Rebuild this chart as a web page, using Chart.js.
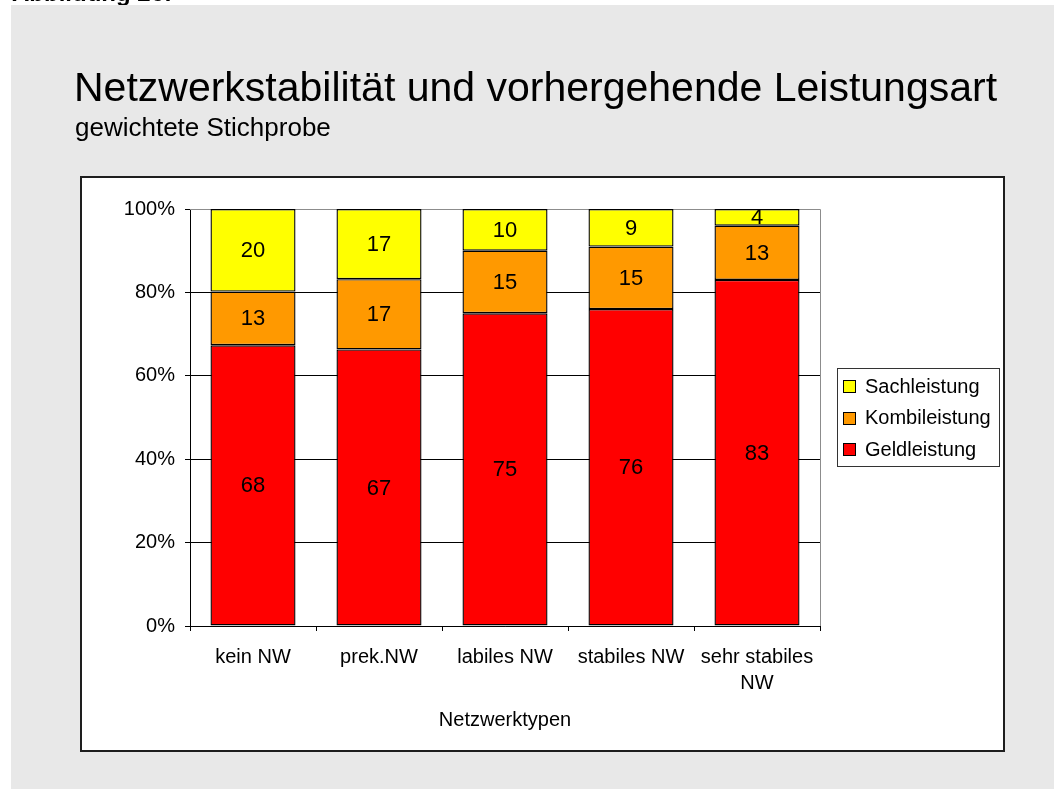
<!DOCTYPE html>
<html>
<head>
<meta charset="utf-8">
<title>Netzwerkstabilität und vorhergehende Leistungsart</title>
<script src="https://cdn.jsdelivr.net/npm/chart.js@4/dist/chart.umd.min.js"></script>
<style>
  html, body { margin: 0; padding: 0; background: #fff; }
  #wrap { position: relative; width: 1054px; height: 789px; }
</style>
</head>
<body>
<div id="wrap"><canvas id="myChart" width="1054" height="789"></canvas></div>
<script>
// data (percent labels shown in the bars)
const categories = ['kein NW', 'prek.NW', 'labiles NW', 'stabiles NW', ['sehr stabiles', 'NW']]
const geldValues = [68, 67, 75, 76, 83]
const kombiValues = [13, 17, 15, 15, 13]
const sachValues = [20, 17, 10, 9, 4]
const yTickValues = [0, 20, 40, 60, 80, 100]

const geldColor = '#ff0000'
const kombiColor = '#ff9900'
const sachColor = '#ffff00'
const fontName = '"Liberation Sans", Arial, sans-serif'

// 100% stacked: each bar is scaled to its own total
const totals = geldValues.map((g, i) => g + kombiValues[i] + sachValues[i])
function share(values) {
  return values.map((v, i) => v / totals[i] * 100)
}

// page decoration: grey sheet, white chart box, headings
const backgroundPlugin = {
  id: 'background',
  beforeDraw(chart) {
    const ctx = chart.ctx
    ctx.save()
    ctx.fillStyle = '#ffffff'
    ctx.fillRect(0, 0, chart.width, chart.height)
    ctx.fillStyle = '#000'
    ctx.font = 'bold 24px ' + fontName
    ctx.textBaseline = 'alphabetic'
    ctx.fillText('Abbildung 26:', 12, 1)
    ctx.fillStyle = '#e8e8e8'
    ctx.fillRect(11, 5, chart.width - 11, chart.height - 5)

    ctx.fillStyle = '#000'
    ctx.font = '41px ' + fontName
    ctx.fillText('Netzwerkstabilität und vorhergehende Leistungsart', 74, 101)
    ctx.font = '26px ' + fontName
    ctx.fillText('gewichtete Stichprobe', 75, 136)

    ctx.fillStyle = '#ffffff'
    ctx.fillRect(81, 177, 923, 574)
    ctx.strokeStyle = '#1e1e1e'
    ctx.lineWidth = 2
    ctx.strokeRect(81, 177, 923, 574)
    ctx.restore()
  },
  beforeDatasetsDraw(chart) {
    // grey frame on top and right of the plot
    const a = chart.chartArea
    const ctx = chart.ctx
    ctx.save()
    ctx.strokeStyle = '#8c8c8c'
    ctx.lineWidth = 1
    ctx.beginPath()
    ctx.moveTo(a.left, Math.round(a.top) + 0.5)
    ctx.lineTo(Math.round(a.right) + 0.5, Math.round(a.top) + 0.5)
    ctx.lineTo(Math.round(a.right) + 0.5, a.bottom)
    ctx.stroke()
    ctx.restore()
  }
}

// numbers inside the segments
const valueLabels = [geldValues, kombiValues, sachValues]
const segmentLabelPlugin = {
  id: 'segmentLabels',
  afterDatasetsDraw(chart) {
    const ctx = chart.ctx
    ctx.save()
    ctx.fillStyle = '#000'
    ctx.font = '22px ' + fontName
    ctx.textAlign = 'center'
    ctx.textBaseline = 'middle'
    chart.data.datasets.forEach((ds, di) => {
      const meta = chart.getDatasetMeta(di)
      meta.data.forEach((bar, i) => {
        ctx.fillText(String(valueLabels[di][i]), bar.x, (bar.y + bar.base) / 2 + 1)
      })
    })
    ctx.restore()
  }
}

// boxed legend on the right, last series first
const legendPlugin = {
  id: 'boxLegend',
  afterDraw(chart) {
    const ctx = chart.ctx
    const left = 837, top = 368, w = 162, h = 98
    ctx.save()
    ctx.strokeStyle = '#333'
    ctx.lineWidth = 1
    ctx.strokeRect(left + 0.5, top + 0.5, w, h)
    ctx.font = '20px ' + fontName
    ctx.textBaseline = 'middle'
    const items = chart.data.datasets.slice().reverse()
    items.forEach((ds, i) => {
      const cy = top + 18 + i * 31.5
      ctx.fillStyle = ds.backgroundColor
      ctx.fillRect(843.5, Math.round(cy - 6) + 0.5, 12, 12)
      ctx.strokeStyle = '#000'
      ctx.strokeRect(843.5, Math.round(cy - 6) + 0.5, 12, 12)
      ctx.fillStyle = '#000'
      ctx.fillText(ds.label, 865, cy + 1)
    })
    ctx.restore()
  }
}

var ctx = document.getElementById('myChart')
var lineChart = new Chart(ctx, {
  type: 'bar',
  data: {
    labels: categories,
    datasets: [{
      label: 'Geldleistung',
      data: share(geldValues),
      backgroundColor: geldColor,
      borderColor: '#000',
      borderWidth: 1.4,
      borderSkipped: false
    }, {
      label: 'Kombileistung',
      data: share(kombiValues),
      backgroundColor: kombiColor,
      borderColor: '#000',
      borderWidth: 1.4,
      borderSkipped: false
    }, {
      label: 'Sachleistung',
      data: share(sachValues),
      backgroundColor: sachColor,
      borderColor: '#000',
      borderWidth: 1.4,
      borderSkipped: false
    }]
  },
  options: {
    responsive: false,
    animation: false,
    devicePixelRatio: 1,
    categoryPercentage: 0.675,
    barPercentage: 1,
    layout: { padding: { left: 0, top: 209, right: 234, bottom: 0 } },
    plugins: {
      legend: { display: false },
      tooltip: { enabled: false }
    },
    scales: {
      x: {
        stacked: true,
        afterFit: s => { s.height = 163 },
        grid: {
          offset: true,
          drawOnChartArea: false,
          drawTicks: true,
          tickLength: 5,
          color: '#000'
        },
        border: { color: '#000', width: 1 },
        ticks: {
          color: '#000',
          padding: 13,
          maxRotation: 0,
          autoSkip: false,
          font: { family: fontName, size: 20, lineHeight: 1.3 }
        },
        title: {
          display: true,
          text: 'Netzwerktypen',
          color: '#000',
          padding: { top: 0, bottom: 57 },
          font: { family: fontName, size: 20 }
        }
      },
      y: {
        stacked: true,
        min: 0,
        max: 100,
        afterFit: s => { s.width = 190 },
        afterBuildTicks: s => { s.ticks = yTickValues.map(v => ({ value: v })) },
        grid: {
          color: c => c.tick && c.tick.value === 100 ? '#8c8c8c' : '#000',
          tickColor: '#000',
          tickLength: 5
        },
        border: { color: '#000', width: 1 },
        ticks: {
          color: '#000',
          padding: 10,
          font: { family: fontName, size: 20 },
          callback: v => v + '%'
        }
      }
    }
  },
  plugins: [backgroundPlugin, segmentLabelPlugin, legendPlugin]
})
</script>
</body>
</html>
